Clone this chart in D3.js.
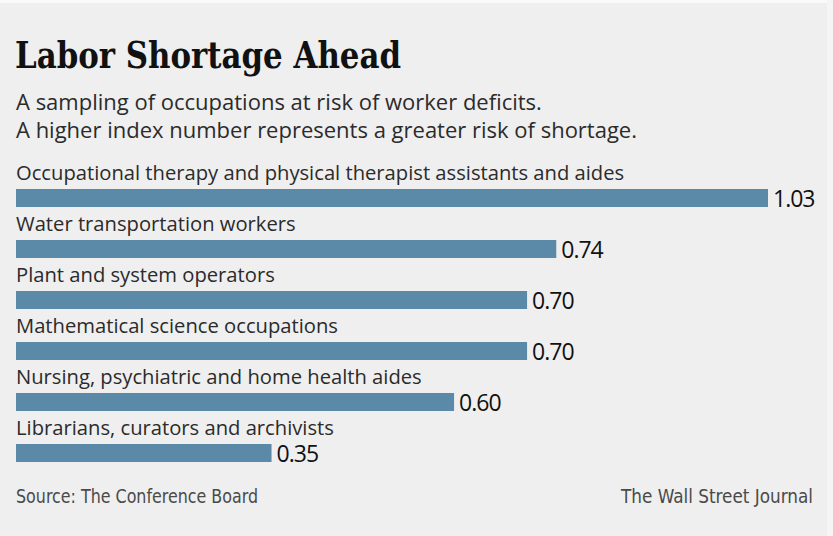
<!DOCTYPE html>
<html>
<head>
<meta charset="utf-8">
<script src="https://cdn.jsdelivr.net/npm/d3@7"></script>
<style>
  html, body { margin: 0; padding: 0; background: #efefef; }
  svg { display: block; }
  .lbl { font-family: "Open Sans", sans-serif; fill: #2b2b2b; }
  .val { font-family: "Open Sans", sans-serif; fill: #111; }
  .foot { font-family: "DejaVu Sans Condensed", "Open Sans", sans-serif; fill: #4a4a4a; }
</style>
</head>
<body>
<div id="chart"></div>
<script>
const occupations = [
  "Occupational therapy and physical therapist assistants and aides",
  "Water transportation workers",
  "Plant and system operators",
  "Mathematical science occupations",
  "Nursing, psychiatric and home health aides",
  "Librarians, curators and archivists"
];
const indexValues = [1.03, 0.74, 0.70, 0.70, 0.60, 0.35];
const valueLabels = ["1.03", "0.74", "0.70", "0.70", "0.60", "0.35"];

const width = 833, height = 536;

const svg = d3.select("#chart").append("svg")
  .attr("width", width)
  .attr("height", height);

svg.append("rect").attr("width", width).attr("height", height).attr("fill", "#efefef");
svg.append("rect").attr("width", width).attr("height", 3).attr("fill", "#fafafa");
svg.append("rect").attr("x", 827).attr("width", 6).attr("height", height).attr("fill", "#f5f5f5");

// title, squeezed to the width of the original slab face
svg.append("text")
  .attr("x", 15)
  .attr("y", 68)
  .attr("textLength", 386)
  .attr("lengthAdjust", "spacingAndGlyphs")
  .style("font-family", "'DejaVu Serif', serif")
  .style("font-weight", "bold")
  .style("font-size", "37px")
  .attr("fill", "#111")
  .text("Labor Shortage Ahead");

const subtitle = [
  "A sampling of occupations at risk of worker deficits.",
  "A higher index number represents a greater risk of shortage."
];
svg.selectAll(".sub")
  .data(subtitle)
  .enter()
  .append("text")
  .attr("class", "sub lbl")
  .attr("x", 16)
  .attr("y", (d, i) => 110 + i * 28)
  .style("font-size", "22px")
  .text((d) => d);

const x = d3.scaleLinear().domain([0, 1.03]).range([16, 768]);
const y = d3.scaleBand().domain(occupations).range([172, 478]).paddingInner(0).paddingOuter(0);

const rows = svg.selectAll(".row")
  .data(occupations)
  .enter()
  .append("g")
  .attr("class", "row")
  .attr("transform", (d) => "translate(0," + y(d) + ")");

rows.append("text")
  .attr("class", "lbl")
  .attr("x", 16)
  .attr("y", 8)
  .style("font-size", "20.2px")
  .text((d) => d);

rows.append("rect")
  .attr("x", x(0))
  .attr("y", 17)
  .attr("height", 18)
  .attr("width", (d, i) => x(indexValues[i]) - x(0))
  .attr("fill", "#5b8aa8");

rows.append("text")
  .attr("class", "val")
  .attr("x", (d, i) => x(indexValues[i]) + 5)
  .attr("y", 35)
  .style("font-size", "23px")
  .style("letter-spacing", "-1px")
  .text((d, i) => valueLabels[i]);

svg.append("text")
  .attr("class", "foot")
  .attr("x", 16)
  .attr("y", 503)
  .attr("textLength", 242)
  .attr("lengthAdjust", "spacingAndGlyphs")
  .style("font-size", "20px")
  .text("Source: The Conference Board");

svg.append("text")
  .attr("class", "foot")
  .attr("x", 621)
  .attr("y", 503)
  .attr("textLength", 192)
  .attr("lengthAdjust", "spacingAndGlyphs")
  .style("font-size", "20px")
  .text("The Wall Street Journal");
</script>
</body>
</html>
